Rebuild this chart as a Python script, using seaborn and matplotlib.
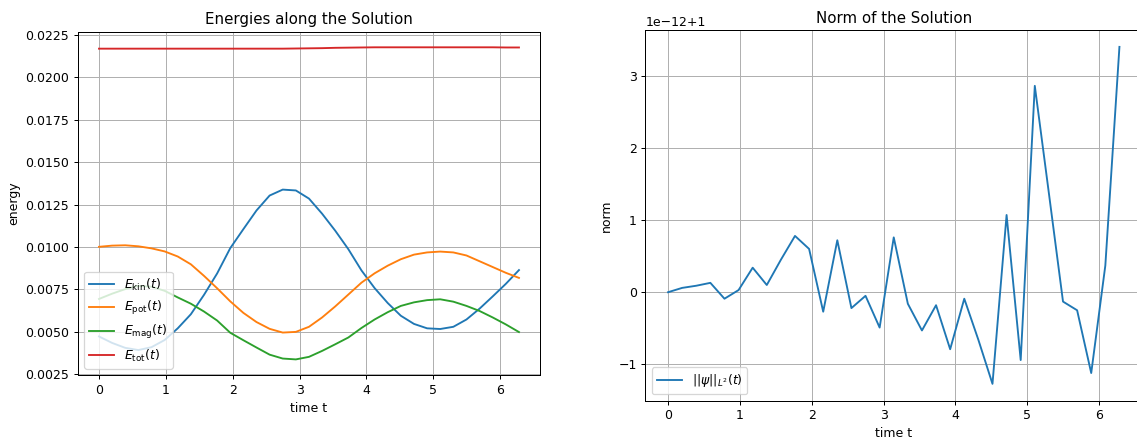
# ==========================================================
# ENERGIES AND NORM ALONG THE SOLUTION
# ==========================================================

import numpy as np
import matplotlib
matplotlib.use("Agg")
import matplotlib.pyplot as plt
from matplotlib.ticker import ScalarFormatter
import seaborn as sns

# ==========================================================
# DATA
# ==========================================================

t = np.linspace(0, 2 * np.pi, 33)

E_kin = [
    0.00473, 0.00435, 0.00406, 0.00393, 0.00410, 0.00452, 0.00521, 0.00604,
    0.00718, 0.00844, 0.00993, 0.01105, 0.01215, 0.01303, 0.01338, 0.01333,
    0.01285, 0.01196, 0.01096, 0.00987, 0.00862, 0.00758, 0.00670, 0.00595,
    0.00547, 0.00521, 0.00517, 0.00530, 0.00573, 0.00637, 0.00709, 0.00783,
    0.00864,
]

E_pot = [
    0.01001, 0.01008, 0.01010, 0.01004, 0.00992, 0.00974, 0.00944, 0.00898,
    0.00830, 0.00757, 0.00680, 0.00612, 0.00558, 0.00518, 0.00496, 0.00500,
    0.00530, 0.00585, 0.00650, 0.00720, 0.00790, 0.00845, 0.00890, 0.00928,
    0.00955, 0.00968, 0.00973, 0.00968, 0.00950, 0.00916, 0.00882, 0.00848,
    0.00818,
]

E_mag = [
    0.00694, 0.00725, 0.00752, 0.00771, 0.00766, 0.00742, 0.00703, 0.00666,
    0.00620, 0.00567, 0.00495, 0.00451, 0.00408, 0.00366, 0.00343, 0.00338,
    0.00353, 0.00388, 0.00427, 0.00467, 0.00523, 0.00573, 0.00616, 0.00653,
    0.00674, 0.00687, 0.00692, 0.00678, 0.00653, 0.00623, 0.00585, 0.00544,
    0.00499,
]

E_tot = [
    0.02168, 0.02168, 0.02168, 0.02168, 0.02168, 0.02168, 0.02168, 0.02168,
    0.02168, 0.02168, 0.02168, 0.02168, 0.02168, 0.02168, 0.02168, 0.02169,
    0.02170, 0.02171, 0.02173, 0.02174, 0.02175, 0.02176, 0.02176, 0.02176,
    0.02176, 0.02176, 0.02176, 0.02176, 0.02176, 0.02176, 0.02176, 0.02175,
    0.02175,
]

# deviation of the L2 norm from 1, in units of 1e-12
norm_dev = [
    0.00, 0.06, 0.09, 0.13, -0.09, 0.03, 0.34, 0.10,
    0.45, 0.78, 0.60, -0.27, 0.72, -0.22, -0.05, -0.49,
    0.76, -0.16, -0.53, -0.18, -0.79, -0.09, -0.66, -1.27,
    1.07, -0.94, 2.86, 1.37, -0.13, -0.25, -1.12, 0.37,
    3.40,
]

norm = 1.0 + np.array(norm_dev) * 1e-12

energy_labels = [
    r"$E_{\rm kin}(t)$",
    r"$E_{\rm pot}(t)$",
    r"$E_{\rm mag}(t)$",
    r"$E_{\rm tot}(t)$",
]
energy_colors = ["tab:blue", "tab:orange", "tab:green", "tab:red"]


class OffsetFormatter(ScalarFormatter):
    # show the offset the way the reference does: 1e-12 + 1
    def get_offset(self):
        return "1e\u221212+1"


# ==========================================================
# FIGURE
# ==========================================================

fig = plt.figure(figsize=(1137 / 90, 444 / 90), dpi=90)

ax1 = fig.add_axes([0.0686, 0.1554, 0.4063, 0.7732])
ax2 = fig.add_axes([0.5677, 0.0975, 0.4367, 0.8349])

# ---------------- energies ----------------

for series, label, color in zip(
    [E_kin, E_pot, E_mag, E_tot], energy_labels, energy_colors
):
    sns.lineplot(x=t, y=series, ax=ax1, label=label, color=color, linewidth=1.5)

ax1.set_title("Energies along the Solution", fontsize=12)
ax1.set_xlabel("time t")
ax1.set_ylabel("energy")
ax1.grid(True)
ax1.legend(loc="lower left")

# ---------------- norm ----------------

sns.lineplot(x=t, y=norm, ax=ax2, label=r"$||\psi||_{L^2}(t)$",
             color="tab:blue", linewidth=1.5)

ax2.yaxis.set_major_formatter(OffsetFormatter())
ax2.set_title("Norm of the Solution", fontsize=12)
ax2.set_xlabel("time t")
ax2.set_ylabel("norm")
ax2.grid(True)
ax2.legend(loc="lower left")

plt.savefig("out.png", dpi=90)

print("Saved out.png")
